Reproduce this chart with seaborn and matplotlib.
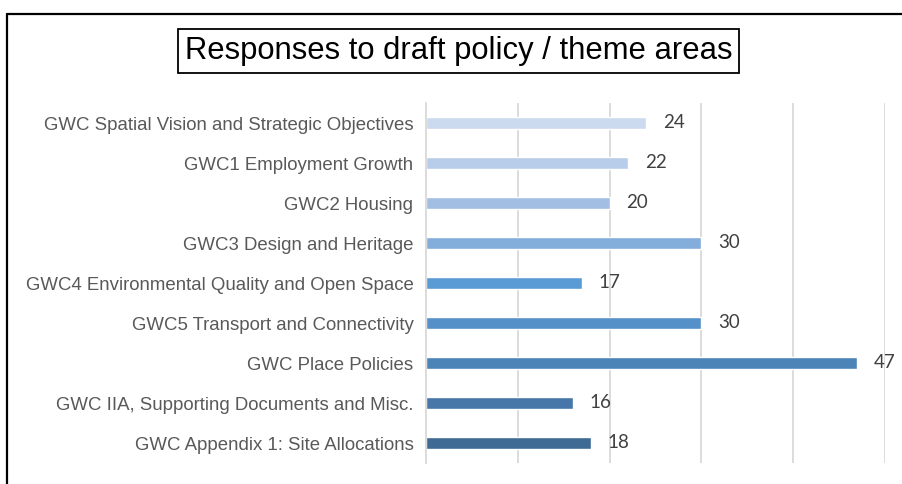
import matplotlib
matplotlib.use("Agg")
import matplotlib.pyplot as plt
from matplotlib.lines import Line2D
from matplotlib.ticker import FixedLocator
import seaborn as sns
import pandas as pd

categories = [
    "GWC Spatial Vision and Strategic Objectives",
    "GWC1 Employment Growth",
    "GWC2 Housing",
    "GWC3 Design and Heritage",
    "GWC4 Environmental Quality and Open Space",
    "GWC5 Transport and Connectivity",
    "GWC Place Policies",
    "GWC IIA, Supporting Documents and Misc.",
    "GWC Appendix 1: Site Allocations",
]
responses = [24, 22, 20, 30, 17, 30, 47, 16, 18]
bar_colors = ["#cbdaee", "#b7cde9", "#a2bfe3", "#83aedc", "#5b9bd5",
              "#5590c8", "#4d84b8", "#4677a8", "#3e6a94"]
title = "Responses to draft policy / theme areas"

df = pd.DataFrame({"area": categories, "responses": responses})

sns.set_style("white")
plt.rcParams["font.family"] = ["Liberation Sans", "DejaVu Sans"]

fig = plt.figure(figsize=(9.02, 4.84), dpi=100)
ax = fig.add_axes([426 / 902, 1 - 463 / 484, (885 - 426) / 902, (463 - 103) / 484])

sns.barplot(data=df, x="responses", y="area", hue="area", palette=bar_colors,
            legend=False, width=0.3, ax=ax, orient="h", saturation=1)

ax.set_xlim(0, 50)
ax.set_ylim(len(categories) - 0.5, -0.5)
ax.set_xlabel("")
ax.set_ylabel("")
ax.set_xticks([10, 20, 30, 40, 50])
ax.set_xticklabels([])
ax.tick_params(axis="x", length=0)
ax.grid(axis="x", color="#d9d9d9", linewidth=1.3)
ax.set_axisbelow(True)

for side in ["top", "right", "bottom"]:
    ax.spines[side].set_visible(False)
ax.spines["left"].set_color("#d9d9d9")
ax.spines["left"].set_linewidth(1.3)

ax.tick_params(axis="y", which="major", length=0, pad=9, labelsize=13.4, labelcolor="#595959")
ax.yaxis.set_minor_locator(FixedLocator([i - 0.5 for i in range(len(categories) + 1)]))
ax.tick_params(axis="y", which="minor", length=4, color="#d9d9d9", width=1.3)

for container in ax.containers:
    ax.bar_label(container, padding=12, fontsize=13.5, color="#404040",
                 family=["Lato", "DejaVu Sans"])

fig.text(458.5 / 902, 1 - 51 / 484, title, ha="center", va="center",
         fontsize=22.3, color="black",
         bbox=dict(boxstyle="square,pad=0.22", facecolor="white",
                   edgecolor="black", linewidth=1.3))

# frame lines along the top and left of the figure
fig.add_artist(Line2D([7 / 902, 1], [1 - 14 / 484, 1 - 14 / 484],
                      transform=fig.transFigure, color="black", linewidth=1.6))
fig.add_artist(Line2D([7 / 902, 7 / 902], [0, 1 - 14 / 484],
                      transform=fig.transFigure, color="black", linewidth=1.6))

fig.savefig("out.png", dpi=100)
